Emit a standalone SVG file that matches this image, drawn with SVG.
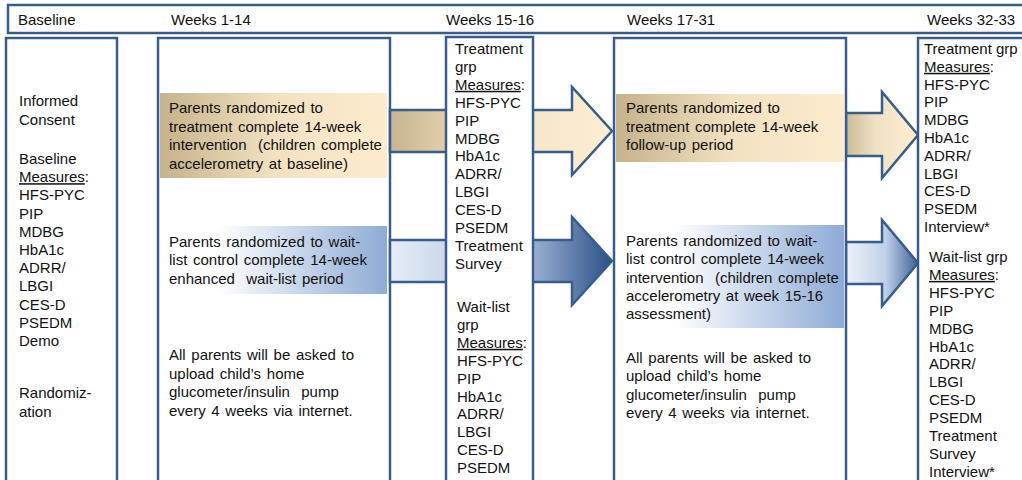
<svg xmlns="http://www.w3.org/2000/svg" width="1022" height="480" viewBox="0 0 1022 480">
<style>
.box{fill:#fff;stroke:#385D8A;stroke-width:2.5}
.arr{stroke:#385D8A;stroke-width:2.5;stroke-linejoin:miter}
.t{font-family:"Liberation Sans",Arial,sans-serif;font-size:15px;fill:#111}
.w{word-spacing:1.5px;white-space:pre}
.u{text-decoration:underline}
</style>
<defs>
<linearGradient id="tanBox" x1="0" y1="0" x2="1" y2="0">
<stop offset="0" stop-color="#c6b28b"/><stop offset="0.5" stop-color="#f1e1c1"/><stop offset="1" stop-color="#fdebcd"/>
</linearGradient>
<linearGradient id="blueBox" x1="0" y1="0" x2="1" y2="0">
<stop offset="0" stop-color="#ffffff"/><stop offset="0.25" stop-color="#ffffff"/><stop offset="1" stop-color="#8eabd5"/>
</linearGradient>
<linearGradient id="tanArr" x1="0" y1="0" x2="1" y2="0">
<stop offset="0" stop-color="#c8b48e"/><stop offset="0.45" stop-color="#f3e3c4"/><stop offset="1" stop-color="#fdeed3"/>
</linearGradient>
<linearGradient id="blueArr" x1="0" y1="0" x2="1" y2="0">
<stop offset="0" stop-color="#e6edf6"/><stop offset="0.6" stop-color="#a6bcdc"/><stop offset="1" stop-color="#2b4f86"/>
</linearGradient>
<linearGradient id="tanArr2" x1="0" y1="0" x2="1" y2="0">
<stop offset="0" stop-color="#cdbb95"/><stop offset="0.4" stop-color="#f0e1c3"/><stop offset="1" stop-color="#fdeed4"/>
</linearGradient>
<linearGradient id="blueArr2" x1="0" y1="0" x2="1" y2="0">
<stop offset="0" stop-color="#eef2f9"/><stop offset="0.55" stop-color="#c0d0e8"/><stop offset="1" stop-color="#3f6197"/>
</linearGradient>
</defs>

<g id="header">
<rect class="box" x="8" y="5" width="1030" height="28"/>
<text class="t" x="18" y="25">Baseline</text>
<text class="t" x="171" y="25">Weeks 1-14</text>
<text class="t" x="446" y="25">Weeks 15-16</text>
<text class="t" x="627" y="25">Weeks 17-31</text>
<text class="t" x="927" y="25">Weeks 32-33</text>
</g>

<g id="baseline">
<rect class="box" x="6" y="38" width="111" height="460"/>
<text class="t" x="19" y="106"><tspan x="19">Informed</tspan><tspan x="19" dy="19">Consent</tspan></text>
<text class="t" y="164"><tspan x="19">Baseline</tspan><tspan x="19" dy="18.2"><tspan class="u">Measures</tspan>:</tspan><tspan x="19" dy="18.2">HFS-PYC</tspan><tspan x="19" dy="18.2">PIP</tspan><tspan x="19" dy="18.2">MDBG</tspan><tspan x="19" dy="18.2">HbA1c</tspan><tspan x="19" dy="18.2">ADRR/</tspan><tspan x="19" dy="18.2">LBGI</tspan><tspan x="19" dy="18.2">CES-D</tspan><tspan x="19" dy="18.2">PSEDM</tspan><tspan x="19" dy="18.2">Demo</tspan></text>
<text class="t" y="398"><tspan x="19">Randomiz-</tspan><tspan x="19" dy="18.5">ation</tspan></text>
</g>

<g id="weeks1-14">
<rect class="box" x="158" y="38" width="232" height="460"/>
<rect x="160" y="93" width="227" height="85" fill="url(#tanBox)"/>
<rect x="160" y="226" width="227" height="68" fill="url(#blueBox)"/>
<text class="t w" y="113"><tspan x="169">Parents randomized to</tspan><tspan x="169" dy="18.7">treatment complete 14-week</tspan><tspan x="169" dy="18.7">intervention  (children complete</tspan><tspan x="169" dy="18.7">accelerometry at baseline)</tspan></text>
<text class="t w" y="247"><tspan x="169">Parents randomized to wait-</tspan><tspan x="169" dy="18.3">list control complete 14-week</tspan><tspan x="169" dy="18.3">enhanced  wait-list period</tspan></text>
<text class="t w" y="360"><tspan x="169">All parents will be asked to</tspan><tspan x="169" dy="18.5">upload child’s home</tspan><tspan x="169" dy="18.5">glucometer/insulin  pump</tspan><tspan x="169" dy="18.5">every 4 weeks via internet.</tspan></text>
</g>

<g id="connectors">
<polygon class="arr" fill="url(#tanArr)" points="390,110 572,110 572,87 612,131 572,175 572,152 390,152"/>
<polygon class="arr" fill="url(#blueArr)" points="390,240 572,240 572,217 612,261 572,305 572,282 390,282"/>
<polygon class="arr" fill="url(#tanArr2)" points="846,113 882,113 882,92 918,135 882,178 882,156 846,156"/>
<polygon class="arr" fill="url(#blueArr2)" points="846,242 882,242 882,220 918,263 882,306 882,284 846,284"/>
</g>

<g id="weeks15-16">
<rect class="box" x="446" y="37" width="87" height="460"/>
<text class="t" y="54"><tspan x="455">Treatment</tspan><tspan x="455" dy="17.9">grp</tspan><tspan x="455" dy="17.9"><tspan class="u">Measures</tspan>:</tspan><tspan x="455" dy="17.9">HFS-PYC</tspan><tspan x="455" dy="17.9">PIP</tspan><tspan x="455" dy="17.9">MDBG</tspan><tspan x="455" dy="17.9">HbA1c</tspan><tspan x="455" dy="17.9">ADRR/</tspan><tspan x="455" dy="17.9">LBGI</tspan><tspan x="455" dy="17.9">CES-D</tspan><tspan x="455" dy="17.9">PSEDM</tspan><tspan x="455" dy="17.9">Treatment</tspan><tspan x="455" dy="17.9">Survey</tspan></text>
<text class="t" y="312"><tspan x="457">Wait-list</tspan><tspan x="457" dy="17.9">grp</tspan><tspan x="457" dy="17.9"><tspan class="u">Measures</tspan>:</tspan><tspan x="457" dy="17.9">HFS-PYC</tspan><tspan x="457" dy="17.9">PIP</tspan><tspan x="457" dy="17.9">HbA1c</tspan><tspan x="457" dy="17.9">ADRR/</tspan><tspan x="457" dy="17.9">LBGI</tspan><tspan x="457" dy="17.9">CES-D</tspan><tspan x="457" dy="17.9">PSEDM</tspan></text>
</g>

<g id="weeks17-31">
<rect class="box" x="614" y="38" width="232" height="460"/>
<rect x="616" y="94" width="228" height="68" fill="url(#tanBox)"/>
<rect x="616" y="225" width="228" height="103" fill="url(#blueBox)"/>
<text class="t w" y="113"><tspan x="626">Parents randomized to</tspan><tspan x="626" dy="18.7">treatment complete 14-week</tspan><tspan x="626" dy="18.7">follow-up period</tspan></text>
<text class="t w" y="246"><tspan x="626">Parents randomized to wait-</tspan><tspan x="626" dy="18.3">list control complete 14-week</tspan><tspan x="626" dy="18.3">intervention  (children complete</tspan><tspan x="626" dy="18.3">accelerometry at week 15-16</tspan><tspan x="626" dy="18.3">assessment)</tspan></text>
<text class="t w" y="363"><tspan x="626">All parents will be asked to</tspan><tspan x="626" dy="18.3">upload child’s home</tspan><tspan x="626" dy="18.3">glucometer/insulin  pump</tspan><tspan x="626" dy="18.3">every 4 weeks via internet.</tspan></text>
</g>

<g id="weeks32-33">
<rect class="box" x="918" y="38" width="130" height="460"/>
<text class="t" y="54"><tspan x="924">Treatment grp</tspan><tspan x="924" dy="17.8"><tspan class="u">Measures</tspan>:</tspan><tspan x="924" dy="17.8">HFS-PYC</tspan><tspan x="924" dy="17.8">PIP</tspan><tspan x="924" dy="17.8">MDBG</tspan><tspan x="924" dy="17.8">HbA1c</tspan><tspan x="924" dy="17.8">ADRR/</tspan><tspan x="924" dy="17.8">LBGI</tspan><tspan x="924" dy="17.8">CES-D</tspan><tspan x="924" dy="17.8">PSEDM</tspan><tspan x="924" dy="17.8">Interview*</tspan></text>
<text class="t" y="262"><tspan x="929">Wait-list grp</tspan><tspan x="929" dy="17.9"><tspan class="u">Measures</tspan>:</tspan><tspan x="929" dy="17.9">HFS-PYC</tspan><tspan x="929" dy="17.9">PIP</tspan><tspan x="929" dy="17.9">MDBG</tspan><tspan x="929" dy="17.9">HbA1c</tspan><tspan x="929" dy="17.9">ADRR/</tspan><tspan x="929" dy="17.9">LBGI</tspan><tspan x="929" dy="17.9">CES-D</tspan><tspan x="929" dy="17.9">PSEDM</tspan><tspan x="929" dy="17.9">Treatment</tspan><tspan x="929" dy="17.9">Survey</tspan><tspan x="929" dy="17.9">Interview*</tspan></text>
</g>
</svg>
